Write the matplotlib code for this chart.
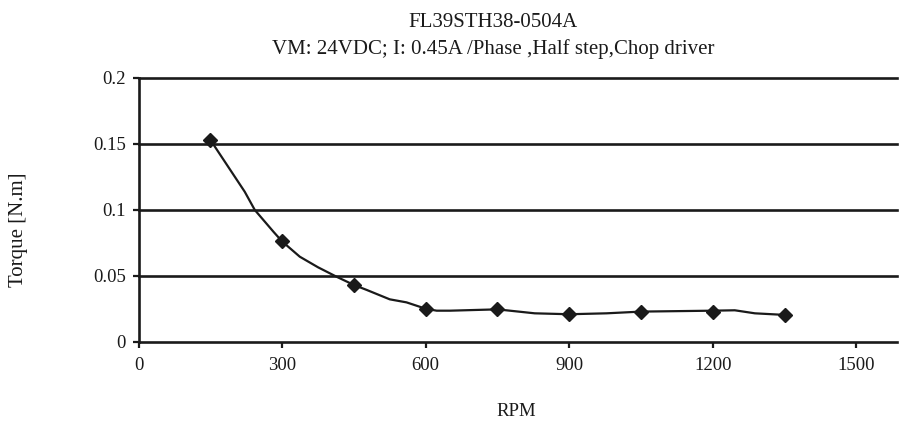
import matplotlib
matplotlib.use("Agg")
import matplotlib.pyplot as plt

# Measured points (markers)
marker_rpm = [150, 300, 450, 600, 750, 900, 1050, 1200, 1350]
marker_torque = [0.153, 0.076, 0.043, 0.025, 0.0245, 0.0208, 0.0228, 0.0228, 0.0203]

# Smoothed curve points
line_rpm = [150, 222, 243, 282, 300, 337, 375, 414, 450, 477, 525, 560, 600,
            623, 651, 750, 828, 900, 978, 1050, 1200, 1246, 1288, 1350]
line_torque = [0.153, 0.1136, 0.0998, 0.0833, 0.076, 0.0644, 0.0564, 0.0492,
               0.043, 0.0392, 0.0321, 0.0298, 0.025, 0.0235, 0.0235, 0.0245,
               0.0215, 0.0208, 0.0215, 0.0228, 0.0235, 0.0238, 0.0215, 0.0203]

x_ticks = [0, 300, 600, 900, 1200, 1500]
x_labels = ["0", "300", "600", "900", "1200", "1500"]
y_ticks = [0, 0.05, 0.1, 0.15, 0.2]
y_labels = ["0", "0.05", "0.1", "0.15", "0.2"]

title1 = "FL39STH38-0504A"
title2 = "VM: 24VDC; I: 0.45A /Phase ,Half step,Chop driver"
xlabel = "RPM"
ylabel = "Torque [N.m]"

plt.rcParams['font.family'] = ['Liberation Serif', 'DejaVu Serif']
FS = 13.5
FS_T = 15
ink = "#1a1a1a"

fig = plt.figure(figsize=(8.99, 4.24), dpi=100)
ax = fig.add_axes([138.5 / 899, 1 - 341.7 / 424, (897 - 138.5) / 899, (341.7 - 77.7) / 424])

ax.set_xlim(0, 1585)
ax.set_ylim(0, 0.2)

for yv in y_ticks[1:]:
    ax.axhline(yv, color=ink, lw=1.9, zorder=1, clip_on=False)

ax.plot(line_rpm, line_torque, color=ink, lw=1.6, zorder=3)
ax.plot(marker_rpm, marker_torque, linestyle='none', marker='D', ms=7.3,
        color=ink, zorder=4)

for s in ['top', 'right']:
    ax.spines[s].set_visible(False)
for s in ['left', 'bottom']:
    ax.spines[s].set_color(ink)
    ax.spines[s].set_linewidth(1.9)

ax.set_xticks(x_ticks)
ax.set_xticklabels(x_labels)
ax.set_yticks(y_ticks)
ax.set_yticklabels(y_labels)
ax.tick_params(axis='both', direction='out', length=4, width=1.6, color=ink,
               labelsize=FS, labelcolor=ink)
ax.tick_params(axis='x', pad=7)
ax.tick_params(axis='y', pad=5)

fig.text(493 / 899, 1 - 22.7 / 424, title1, ha='center', va='center',
         fontsize=FS_T, color=ink)
fig.text(493 / 899, 1 - 49 / 424, title2, ha='center', va='center',
         fontsize=FS_T, color=ink)
fig.text(516 / 899, 1 - 411.7 / 424, xlabel, ha='center', va='center',
         fontsize=FS, color=ink)
fig.text(19 / 899, 1 - 230 / 424, ylabel, ha='center', va='center',
         rotation=90, fontsize=FS_T, color=ink)

fig.savefig("out.png", dpi=100, facecolor='white')
